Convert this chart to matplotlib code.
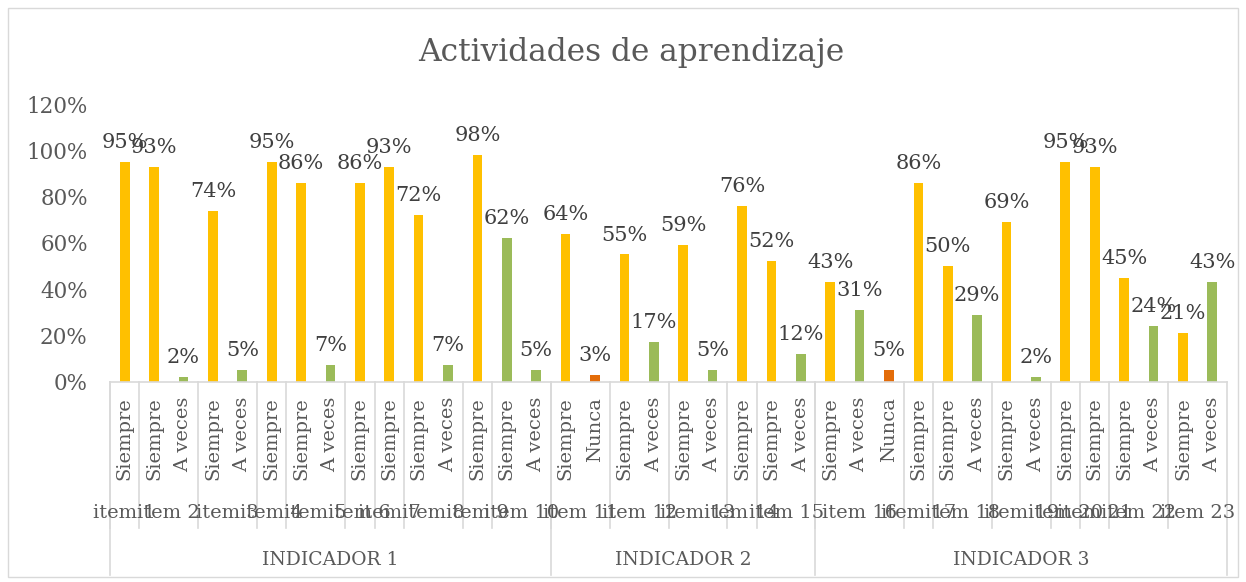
import matplotlib
matplotlib.use("Agg")
import matplotlib.pyplot as plt
from matplotlib.transforms import blended_transform_factory
from matplotlib.patches import Rectangle

# ---------------- data ----------------
title = "Actividades de aprendizaje"
indicators = ["INDICADOR 1", "INDICADOR 2", "INDICADOR 3"]
items_per_indicator = [10, 5, 8]
items = ["item 1", "item 2", "item 3", "item 4", "item 5", "item 6", "item 7",
         "item 8", "item 9", "item 10", "item 11", "item 12", "item 13",
         "item 14", "item 15", "item 16", "item 17", "item 18", "item 19",
         "item 20", "item 21", "item 22", "item 23"]
item_sizes = [1, 2, 2, 1, 2, 1, 1, 2, 1, 2,
              2, 2, 2, 1, 2,
              3, 1, 2, 2, 1, 1, 2, 2]
responses = ["Siempre", "Siempre", "A veces", "Siempre", "A veces", "Siempre",
             "Siempre", "A veces", "Siempre", "Siempre", "Siempre", "A veces",
             "Siempre", "Siempre", "A veces",
             "Siempre", "Nunca", "Siempre", "A veces", "Siempre", "A veces",
             "Siempre", "Siempre", "A veces",
             "Siempre", "A veces", "Nunca", "Siempre", "Siempre", "A veces",
             "Siempre", "A veces", "Siempre", "Siempre", "Siempre", "A veces",
             "Siempre", "A veces"]
values = [95, 93, 2, 74, 5, 95, 86, 7, 86, 93, 72, 7, 98, 62, 5,
          64, 3, 55, 17, 59, 5, 76, 52, 12,
          43, 31, 5, 86, 50, 29, 69, 2, 95, 93, 45, 24, 21, 43]
# colour group of each bar as drawn in the original
bar_group = ["Siempre", "Siempre", "A veces", "Siempre", "A veces", "Siempre",
             "Siempre", "A veces", "Siempre", "Siempre", "Siempre", "A veces",
             "Siempre", "A veces", "A veces",
             "Siempre", "Nunca", "Siempre", "A veces", "Siempre", "A veces",
             "Siempre", "Siempre", "A veces",
             "Siempre", "A veces", "Nunca", "Siempre", "Siempre", "A veces",
             "Siempre", "A veces", "Siempre", "Siempre", "Siempre", "A veces",
             "Siempre", "A veces"]
palette = {"Siempre": "#FFC000", "A veces": "#9BBB59", "Nunca": "#E36C09"}
yticks = [0, 20, 40, 60, 80, 100, 120]

# ---------------- figure ----------------
W, H = 1246, 582
fig = plt.figure(figsize=(W / 100, H / 100), dpi=100)
plt.rcParams["font.family"] = ["DejaVu Serif"]
txt = "#595959"

ax = fig.add_axes([110 / W, 1 - 381.5 / H, (1227 - 110) / W, (381.5 - 104.3) / H])
n = len(values)
xs = [i + 0.5 for i in range(n)]
ax.bar(xs, values, width=0.33, color=[palette[g] for g in bar_group], zorder=2)
for x, v in zip(xs, values):
    ax.annotate(f"{v}%", (x, v), xytext=(0, 10), textcoords="offset points",
                ha="center", va="baseline", fontsize=15, color="#404040")

ax.set_xlim(0, n)
ax.set_ylim(0, 120)
ax.set_yticks(yticks)
ax.set_yticklabels([f"{t}%" for t in yticks], fontsize=15.5, color=txt)
ax.tick_params(axis="y", length=0, pad=16)
ax.set_xticks(xs)
ax.set_xticklabels(responses, rotation=90, fontsize=14, color=txt)
ax.tick_params(axis="x", length=0, pad=11)
for s in ["top", "right", "left"]:
    ax.spines[s].set_visible(False)
ax.spines["bottom"].set_color("#D9D9D9")
ax.spines["bottom"].set_linewidth(1.2)

tr = blended_transform_factory(ax.transData, fig.transFigure)
y_axis = 1 - 381.5 / H
y_item_line = 1 - 528 / H
y_ind_line = 1 - 575 / H
line_kw = dict(color="#D9D9D9", lw=1.2, transform=tr, clip_on=False)

# item labels and separators
pos = 0
for name, size in zip(items, item_sizes):
    ax.text(pos + size / 2, 1 - 513 / H, name, transform=tr, ha="center",
            va="center", fontsize=14, color=txt)
    ax.plot([pos, pos], [y_axis, y_item_line], **line_kw)
    pos += size

# indicator labels and separators
pos = 0
idx = 0
for name, k in zip(indicators, items_per_indicator):
    width = sum(item_sizes[idx:idx + k])
    ax.text(pos + width / 2, 1 - 560 / H, name, transform=tr, ha="center",
            va="center", fontsize=13.5, color=txt)
    ax.plot([pos, pos], [y_axis, y_ind_line], **line_kw)
    pos += width
    idx += k
ax.plot([pos, pos], [y_axis, y_ind_line], **line_kw)

fig.text(631 / W, 1 - 53 / H, title, ha="center", va="center",
         fontsize=22.5, color=txt)

fig.patches.append(Rectangle((8 / W, 5 / H), (1238 - 8) / W, (574 - 5) / H,
                             transform=fig.transFigure, fill=False,
                             edgecolor="#D9D9D9", lw=1))

fig.savefig("out.png", dpi=100)
